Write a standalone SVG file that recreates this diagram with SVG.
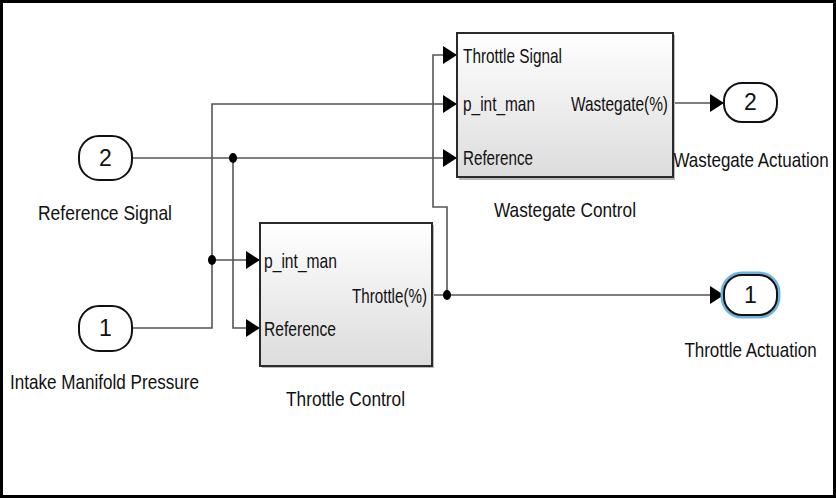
<svg xmlns="http://www.w3.org/2000/svg" width="836" height="498" viewBox="0 0 836 498">
<defs>
<linearGradient id="blk" x1="0" y1="0" x2="0" y2="1">
<stop offset="0" stop-color="#ffffff"/>
<stop offset="1" stop-color="#dcdcdc"/>
</linearGradient>
<marker id="ah" markerWidth="14" markerHeight="18" refX="14" refY="9" orient="auto" markerUnits="userSpaceOnUse">
<path d="M0,0 L14,9 L0,18 z" fill="#000"/>
</marker>
</defs>
<style>
.t{font-family:"Liberation Sans",Arial,sans-serif;font-size:21px;fill:#111}
.s{font-family:"Liberation Sans",Arial,sans-serif;font-size:17px;fill:#111}
.n{font-family:"Liberation Sans",Arial,sans-serif;font-size:23px;fill:#111}
.w{fill:none;stroke:#555;stroke-width:1.6}
.blk{fill:url(#blk);stroke:#2a2a2a;stroke-width:2}
.shd{fill:#b8b8b8}
.port{fill:#fff;stroke:#111;stroke-width:2}
.dot{fill:#000}
</style>
<rect x="0" y="0" width="836" height="498" fill="#fff"/>
<rect x="1.5" y="1.5" width="833" height="495" fill="none" stroke="#000" stroke-width="3"/>

<g id="connectors">
<path class="w" d="M132,158 H457" marker-end="url(#ah)"/>
<path class="w" d="M233,158 V328 H260" marker-end="url(#ah)"/>
<path class="w" d="M132,328 H212 V104 H457" marker-end="url(#ah)"/>
<path class="w" d="M212,260 H260" marker-end="url(#ah)"/>
<path class="w" d="M432,295 H724" marker-end="url(#ah)"/>
<path class="w" d="M447,295 V207 H433 V55 H457" marker-end="url(#ah)"/>
<path class="w" d="M673,103 H724" marker-end="url(#ah)"/>
<ellipse class="dot" cx="233" cy="158" rx="4" ry="5"/>
<ellipse class="dot" cx="212" cy="260" rx="4" ry="5"/>
<ellipse class="dot" cx="447" cy="295" rx="4" ry="5"/>
</g>

<g id="in2">
<rect class="port" x="79" y="136" width="53" height="44" rx="20" ry="20"/>
<text class="n" x="105.5" y="166" text-anchor="middle">2</text>
<text class="t" x="105" y="220" text-anchor="middle" textLength="134" lengthAdjust="spacingAndGlyphs">Reference Signal</text>
</g>

<g id="in1">
<rect class="port" x="79" y="306" width="53" height="45" rx="20" ry="20"/>
<text class="n" x="105.5" y="336" text-anchor="middle">1</text>
<text class="t" x="10" y="389" textLength="189" lengthAdjust="spacingAndGlyphs">Intake Manifold Pressure</text>
</g>

<g id="wastegate">
<rect class="shd" x="459" y="35" width="216" height="145"/>
<rect class="blk" x="457" y="33" width="216" height="144"/>
<text class="t" x="463" y="63" textLength="99" lengthAdjust="spacingAndGlyphs">Throttle Signal</text>
<text class="t" x="463" y="111" textLength="72" lengthAdjust="spacingAndGlyphs">p_int_man</text>
<text class="t" x="463" y="165" textLength="70" lengthAdjust="spacingAndGlyphs">Reference</text>
<text class="t" x="668" y="111" text-anchor="end" textLength="97" lengthAdjust="spacingAndGlyphs">Wastegate(%)</text>
<text class="t" x="565" y="217" text-anchor="middle" textLength="142" lengthAdjust="spacingAndGlyphs">Wastegate Control</text>
</g>

<g id="throttle">
<rect class="shd" x="262" y="225" width="172" height="143"/>
<rect class="blk" x="260" y="223" width="172" height="143"/>
<text class="t" x="264" y="268" textLength="73" lengthAdjust="spacingAndGlyphs">p_int_man</text>
<text class="t" x="264" y="336" textLength="72" lengthAdjust="spacingAndGlyphs">Reference</text>
<text class="t" x="427" y="303" text-anchor="end" textLength="75" lengthAdjust="spacingAndGlyphs">Throttle(%)</text>
<text class="t" x="345.5" y="406" text-anchor="middle" textLength="119" lengthAdjust="spacingAndGlyphs">Throttle Control</text>
</g>

<g id="out2">
<rect class="port" x="724" y="83" width="53" height="39" rx="18" ry="18"/>
<text class="n" x="750.5" y="110" text-anchor="middle">2</text>
<text class="s" transform="translate(751,167) scale(1,1.22)" text-anchor="middle">Wastegate Actuation</text>
</g>

<g id="out1">
<rect x="724" y="275" width="53" height="40" rx="18" ry="18" fill="none" stroke="#6fb3e0" stroke-width="7"/>
<rect class="port" x="724" y="275" width="53" height="40" rx="18" ry="18"/>
<text class="n" x="750.5" y="303" text-anchor="middle">1</text>
<text class="s" transform="translate(750.5,357) scale(1,1.22)" text-anchor="middle">Throttle Actuation</text>
</g>
</svg>
